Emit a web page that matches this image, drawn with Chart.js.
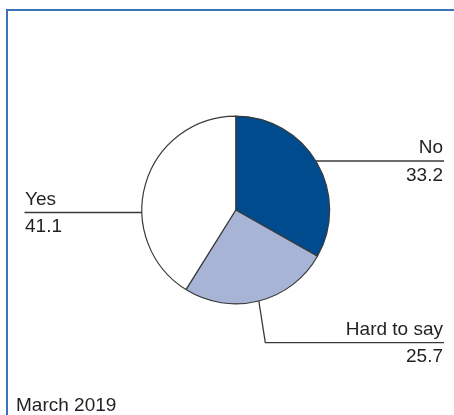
<!DOCTYPE html>
<html>
<head>
<meta charset="utf-8">
<script src="https://cdn.jsdelivr.net/npm/chart.js@4.4.1/dist/chart.umd.min.js"></script>
<style>
  html, body { margin: 0; padding: 0; background: #ffffff; }
  #wrap { position: relative; width: 454px; height: 415px; overflow: hidden; background: #fff; }
  #frame { position: absolute; left: 6px; top: 9px; right: -10px; bottom: -10px;
           border-top: 2px solid #3b73b4; border-left: 2px solid #3b73b4; }
  #c { position: absolute; left: 0; top: 0; }
</style>
</head>
<body>
<div id="wrap">
  <div id="frame"></div>
  <canvas id="c" width="454" height="415"></canvas>
</div>
<script>
// ---- data ----
const categories = ["No", "Hard to say", "Yes"];
const shares = [33.2, 25.7, 41.1];
const valueLabels = ["33.2", "25.7", "41.1"];
const footnote = "March 2019";

// ---- styles / layout (not data) ----
const sliceColors = ["#004b8d", "#a7b4d6", "#ffffff"];
const FONT = '19px "Liberation Sans", Arial, sans-serif';
const TEXT_COLOR = "#231f20";
// per-label leader layout: side, y of horizontal rule, anchor mode
const leaderLayout = [
  { side: "right", lineY: 161, anchor: "edge" },
  { side: "right", lineY: 342.7, anchor: "mid", elbowDx: 6.5 },
  { side: "left",  lineY: 212.5, anchor: "edge" }
];
const RIGHT_X = 444, LEFT_X = 24.5;

const leaderPlugin = {
  id: "leaders",
  afterDatasetsDraw(chart) {
    const ctx = chart.ctx;
    const meta = chart.getDatasetMeta(0);
    ctx.save();
    ctx.strokeStyle = "#3a3a3a";
    ctx.lineWidth = 1.3;
    ctx.fillStyle = TEXT_COLOR;
    ctx.font = FONT;
    meta.data.forEach((arc, i) => {
      const p = arc.getProps(["x", "y", "startAngle", "endAngle", "outerRadius"], true);
      const L = leaderLayout[i];
      let pts = [];
      if (L.anchor === "mid") {
        const a = (p.startAngle + p.endAngle) / 2;
        const sx = p.x + Math.cos(a) * p.outerRadius;
        const sy = p.y + Math.sin(a) * p.outerRadius;
        pts.push([sx, sy]);
        pts.push([sx + L.elbowDx, L.lineY]);
      } else {
        const dy = L.lineY - p.y;
        const dx = Math.sqrt(Math.max(p.outerRadius * p.outerRadius - dy * dy, 0));
        pts.push([L.side === "right" ? p.x + dx : p.x - dx, L.lineY]);
      }
      pts.push([L.side === "right" ? RIGHT_X : LEFT_X, L.lineY]);
      ctx.beginPath();
      ctx.moveTo(pts[0][0], pts[0][1]);
      for (let k = 1; k < pts.length; k++) ctx.lineTo(pts[k][0], pts[k][1]);
      ctx.stroke();
      ctx.textAlign = L.side === "right" ? "right" : "left";
      ctx.textBaseline = "alphabetic";
      const tx = L.side === "right" ? RIGHT_X - 1 : LEFT_X + 0.5;
      ctx.fillText(categories[i], tx, L.lineY - 8);
      ctx.fillText(valueLabels[i], tx, L.lineY + 19.5);
    });
    ctx.textAlign = "left";
    ctx.fillText(footnote, 16, 411);
    ctx.restore();
  }
};

new Chart(document.getElementById("c"), {
  type: "pie",
  data: {
    labels: categories,
    datasets: [{
      data: shares,
      backgroundColor: sliceColors,
      borderColor: "#3a3a3a",
      borderWidth: 1.2,
      hoverOffset: 0
    }]
  },
  options: {
    responsive: false,
    animation: false,
    events: [],
    layout: { padding: { top: 115.5, bottom: 110.5, left: 17.5, right: 0 } },
    plugins: {
      legend: { display: false },
      tooltip: { enabled: false },
      title: { display: false }
    }
  },
  plugins: [leaderPlugin]
});
</script>
</body>
</html>
